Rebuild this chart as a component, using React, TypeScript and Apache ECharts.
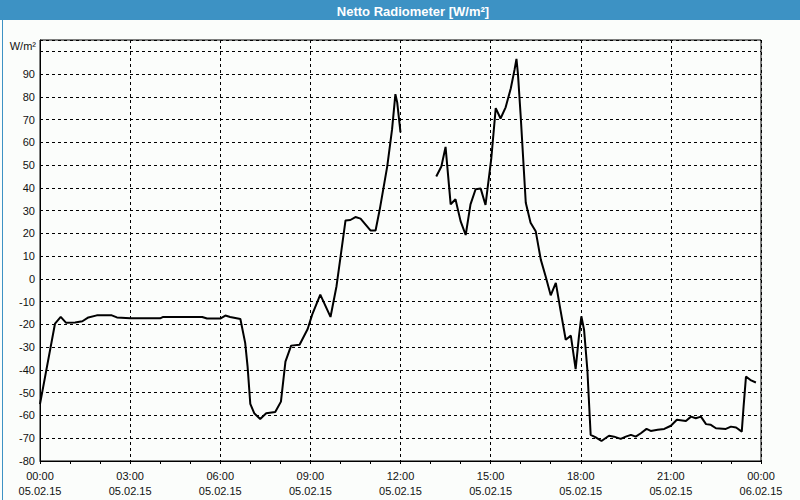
import React, { useEffect, useRef } from "react";
import * as echarts from "echarts";

const TITLE = "Netto Radiometer [W/m²]";
const UNIT = "W/m²";

// hours since 05.02.15 00:00
const hours: number[] = [
  0, 0.5, 0.69, 0.87, 1.17, 1.41, 1.61, 1.89, 2.39, 2.56, 3.0, 4.0, 4.1, 5.4, 5.56, 6.0, 6.17, 6.33, 6.67,
  6.83, 6.91, 7.0, 7.13, 7.33, 7.53, 7.83, 8.02, 8.17, 8.36, 8.64, 8.91, 9.06, 9.33, 9.67, 9.87, 10.17,
  10.33, 10.5, 10.67, 11.0, 11.17, 11.31, 11.56, 11.72, 11.83, 11.89, 12.0,
  12.5,
  13.19, 13.36, 13.5, 13.67, 13.83, 14.0, 14.17, 14.33, 14.5, 14.67, 14.83, 15.02, 15.17, 15.33, 15.5,
  15.67, 15.8, 15.86, 15.91, 16.0, 16.17, 16.33, 16.5, 16.67, 16.83, 17.0, 17.17, 17.33, 17.5, 17.67,
  17.83, 17.94, 18.02, 18.11, 18.22, 18.33, 18.5, 18.69, 18.94, 19.11, 19.33, 19.5, 19.67, 19.83, 20.0,
  20.19, 20.33, 20.56, 20.78, 21.0, 21.2, 21.5, 21.67, 21.83, 22.0, 22.17, 22.33, 22.5, 22.83, 23.0,
  23.17, 23.36, 23.42, 23.5, 23.67, 23.83,
];

const values: (number | null)[] = [
  -55, -19.6, -16.7, -19.3, -19.1, -18.6, -16.9, -16.0, -16.0, -16.9, -17.3, -17.3, -16.7, -16.7, -17.4, -17.4, -16.1, -16.7, -17.6,
  -28.1, -38.5, -54.9, -59, -61.5, -59, -58.5, -53.9, -36.3, -29.3, -28.9, -22, -15.7, -6.9, -16.7, -3.2, 25.7,
  25.9, 27.2, 26.5, 21.3, 21.3, 30.6, 49.6, 65.8, 81.2, 77.6, 64.4,
  null,
  45.0, 49.4, 58.0, 32.8, 35.0, 25.4, 19.3, 32.8, 39.4, 39.7, 32.5, 52.6, 75.1, 70.5, 75.4,
  83.7, 92.2, 96.7, 90, 71.7, 33.5, 24.7, 21.0, 8.5, 1.2, -7.2, -1.7, -14, -26.7, -24.9,
  -39.6, -25.2, -16.4, -22.3, -39.9, -68.5, -69.6, -71.2, -68.9, -69.3, -70.3, -69.3, -68.5, -69.3, -67.8,
  -65.9, -66.8, -66.3, -65.9, -64.5, -61.9, -62.4, -60.5, -61.2, -60.5, -63.8, -64.1, -65.6, -65.9, -64.9,
  -65.3, -67.1, -56.1, -42.9, -44.6, -45.5,
];

const X_MIN = 0;
const X_MAX = 24;
const X_STEP = 3;
const Y_MIN = -80;
const Y_MAX = 105;
const Y_STEP = 10;

const pad = (n: number) => (n < 10 ? "0" + n : "" + n);
const xLabel = (h: number) => {
  const day = h >= 24 ? "06.02.15" : "05.02.15";
  return `${pad(Math.round(h) % 24)}:00\n${day}`;
};

export default function App() {
  const ref = useRef<HTMLDivElement>(null);
  useEffect(() => {
    document.body.style.margin = "0";
    const chart = echarts.init(ref.current!, null, { renderer: "svg" });
    const font = "Liberation Sans";
    chart.setOption({
      animation: false,
      backgroundColor: "#fbfdfb",
      textStyle: { fontFamily: font },
      grid: {
        left: 40,
        right: 39,
        top: 40,
        bottom: 39,
        show: true,
        borderColor: "#000",
        borderWidth: 1,
      },
      graphic: [
        {
          type: "rect",
          left: 0,
          top: 0,
          shape: { width: 800, height: 20 },
          style: { fill: "#3d92c4" },
        },
        {
          type: "rect",
          left: 0,
          top: 0,
          shape: { width: 799, height: 499 },
          style: { fill: "none", stroke: "#3d92c4", lineWidth: 1 },
        },
        {
          type: "text",
          x: 413,
          y: 11,
          style: {
            text: TITLE,
            fill: "#fff",
            font: `bold 13px ${font}`,
            align: "center",
            verticalAlign: "middle",
          },
        },
        {
          type: "text",
          x: 36,
          y: 46,
          style: {
            text: UNIT,
            fill: "#111",
            font: `11px ${font}`,
            align: "right",
            verticalAlign: "middle",
          },
        },
      ],
      xAxis: {
        type: "value",
        min: X_MIN,
        max: X_MAX,
        interval: X_STEP,
        axisLine: { show: true, onZero: false, lineStyle: { color: "#000", width: 1 } },
        axisTick: { show: true, length: 3, lineStyle: { color: "#000" } },
        minorTick: { show: true, splitNumber: 3, length: 3, lineStyle: { color: "#000" } },
        splitLine: { show: true, lineStyle: { color: "#000", type: [3, 3], width: 1 } },
        axisLabel: {
          color: "#111",
          fontSize: 11,
          lineHeight: 15,
          margin: 7,
          formatter: (v: number) => xLabel(v),
        },
      },
      yAxis: {
        type: "value",
        min: Y_MIN,
        max: Y_MAX,
        interval: Y_STEP,
        axisLine: { show: true, onZero: false, lineStyle: { color: "#000", width: 1 } },
        axisTick: { show: false },
        splitLine: { show: true, lineStyle: { color: "#000", type: [3, 3], width: 1 } },
        axisLabel: {
          color: "#111",
          fontSize: 11,
          margin: 5,
          showMaxLabel: false,
          formatter: (v: number) => (v >= 100 ? "" : String(v)),
        },
      },
      series: [
        {
          type: "line",
          data: hours.map((h, i) => [h, values[i]]),
          connectNulls: false,
          showSymbol: false,
          symbol: "none",
          lineStyle: { color: "#000", width: 2 },
        },
      ],
    });
    return () => chart.dispose();
  }, []);
  return (
    <div
      ref={ref}
      style={{ position: "fixed", left: 0, top: 0, width: 800, height: 500 }}
    />
  );
}
